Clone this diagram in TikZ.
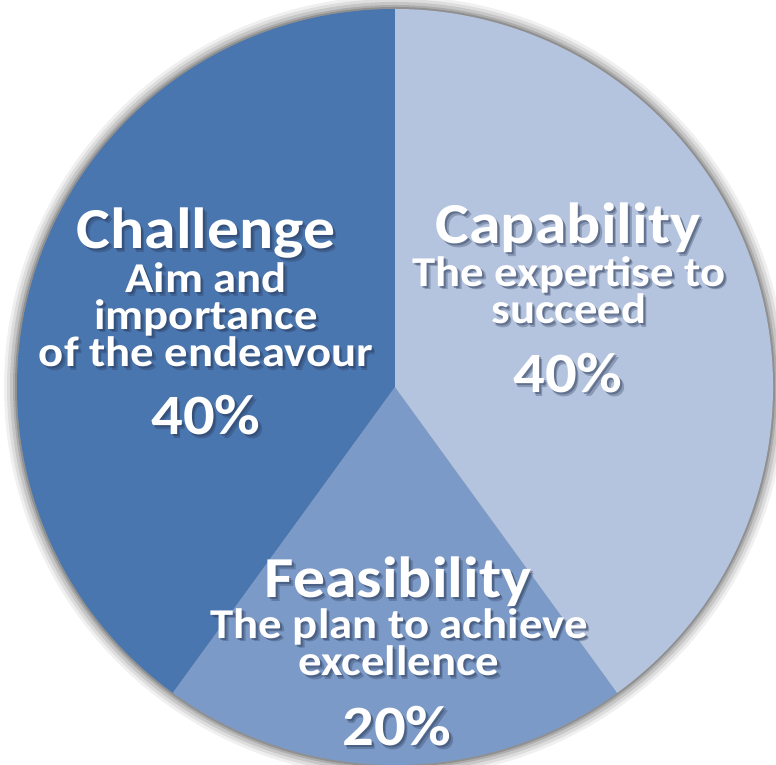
\documentclass[tikz,border=0pt]{standalone}
\usepackage{fontspec}
\setmainfont{Carlito}[FakeStretch=1.1]
\definecolor{challengeblue}{RGB}{73,118,175}
\definecolor{capabilityblue}{RGB}{180,195,222}
\definecolor{feasibilityblue}{RGB}{124,154,199}
\definecolor{textshade}{RGB}{40,55,85}

\begin{document}
\begin{tikzpicture}[x=1pt, y=1pt,
    head/.style={font=\fontsize{58}{58}\selectfont\bfseries, inner sep=0pt, anchor=base},
    sub/.style={font=\fontsize{42.5}{36.5}\selectfont\bfseries, inner sep=0pt, anchor=base, align=center},
    pct/.style={font=\fontsize{57}{57}\selectfont\bfseries, inner sep=0pt, anchor=base}]
    \useasboundingbox (0,0) rectangle (776,765);
    % Shadow round the pie
    \coordinate (centre) at (395,378);
    \foreach \r/\o in {391/0.06, 388/0.08, 385/0.10, 382/0.13, 380/0.16}
      \fill[black, opacity=\o] (centre) circle (\r);
    % Sectors
    \fill[challengeblue] (centre) -- ++(90:378) arc (90:234:378) -- cycle;
    \fill[feasibilityblue] (centre) -- ++(234:378) arc (234:306:378) -- cycle;
    \fill[capabilityblue] (centre) -- ++(306:378) arc (306:450:378) -- cycle;
    % Labels, two soft shadow layers first (base = last line)
    \foreach \layer/\off/\tint/\op in {shadeb/3.5/textshade/0.3, shadea/2/textshade/0.4, main/0/white/1} {
      \begin{scope}[shift={(\off,-\off)}, text=\tint, text opacity=\op]
        \node[head] (challenge-\layer) at (206,516) {Challenge};
        \node[sub] (challengetext-\layer) at (206,398)
          {Aim and\\importance\\of the endeavour};
        \node[pct] (challengepct-\layer) at (206,330) {40\%};
        \node[head] (capability-\layer) at (568,521) {Capability};
        \node[sub] (capabilitytext-\layer) at (569,441)
          {The expertise to\\succeed};
        \node[pct] (capabilitypct-\layer) at (568,372) {40\%};
        \node[head] (feasibility-\layer) at (398,167) {Feasibility};
        \node[sub] (feasibilitytext-\layer) at (399,89)
          {The plan to achieve\\excellence};
        \node[pct] (feasibilitypct-\layer) at (397,19) {20\%};
      \end{scope}
    }
  \end{tikzpicture}
\end{document}
